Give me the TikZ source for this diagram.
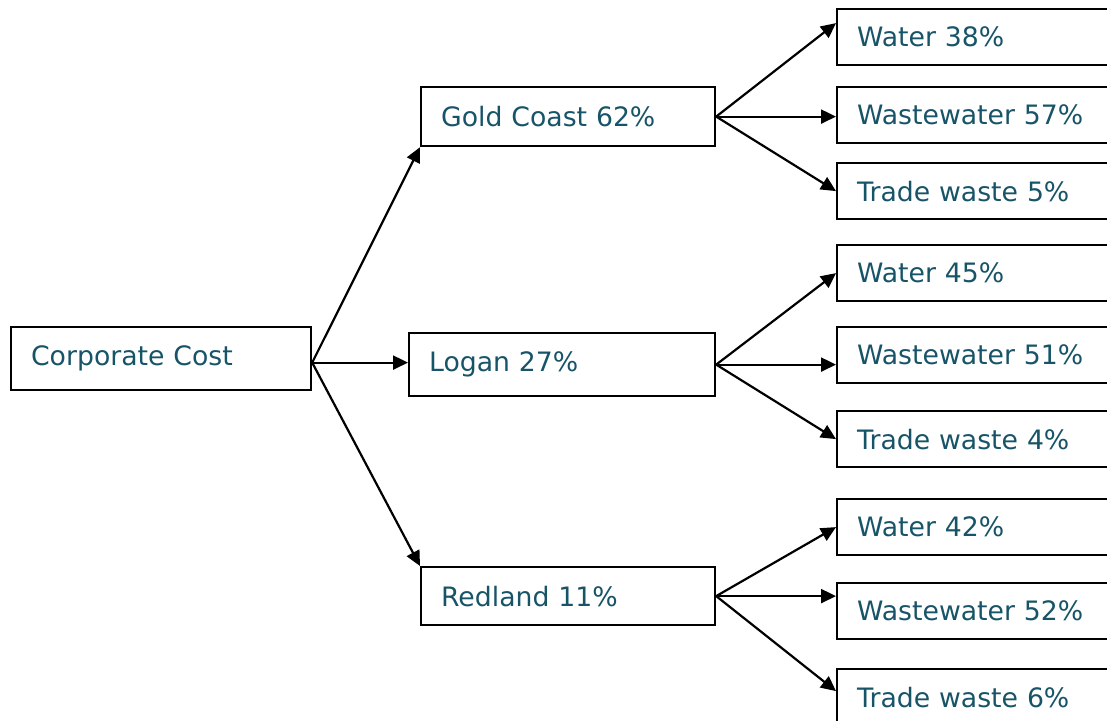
\documentclass[tikz,border=0pt]{standalone}
\usepackage{fontspec}
\setmainfont{DejaVu Sans}
\usepackage{xcolor}
\usetikzlibrary{arrows.meta,positioning,calc}
\definecolor{costtext}{RGB}{24,84,104}
\begin{document}
\begin{tikzpicture}[x=1pt,y=-1pt,
  arr/.style={-{Triangle[length=15pt,width=14pt]}, line width=2.2pt},
  box/.style={draw, line width=2.2pt, anchor=north west, align=left,
              inner xsep=20pt, text=costtext,
              font=\fontsize{26.7}{30}\selectfont, minimum height=59pt},
  catbox/.style={box, text width=232pt, minimum height=56pt}]
\useasboundingbox (0,0) rectangle (1107,720);
\node[box, text width=260pt, minimum height=63pt] (corp) at (10,326) {Corporate Cost};
\node[box, text width=254pt] (gc) at (420,86) {Gold Coast 62\%};
\node[box, text width=266pt, minimum height=63pt] (logan) at (408,332) {Logan 27\%};
\node[box, text width=254pt, minimum height=58pt] (red) at (420,566) {Redland 11\%};
% Gold Coast
\node[catbox] (gcw) at (836,8) {Water 38\%};
\node[catbox] (gcww) at (836,86) {Wastewater 57\%};
\node[catbox] (gctw) at (836,162) {Trade waste 5\%};
% Logan
\node[catbox] (lgw) at (836,244) {Water 45\%};
\node[catbox] (lgww) at (836,326) {Wastewater 51\%};
\node[catbox] (lgtw) at (836,410) {Trade waste 4\%};
% Redland
\node[catbox] (rdw) at (836,498) {Water 42\%};
\node[catbox] (rdww) at (836,582) {Wastewater 52\%};
\node[catbox] (rdtw) at (836,668) {Trade waste 6\%};
\coordinate (split) at ([yshift=-4pt]corp.east);
\draw[arr] (split) -- (gc.south west);
\draw[arr] (split) -- (logan.west |- split);
\draw[arr] (split) -- (red.north west);
\draw[arr] (gc.east) -- ([yshift=14pt]gcw.west);
\draw[arr] (gc.east) -- (gcww.west |- gc.east);
\draw[arr] (gc.east) -- (gctw.west);
\draw[arr] (logan.east) -- (lgw.west);
\draw[arr] (logan.east) -- (lgww.west |- logan.east);
\draw[arr] (logan.east) -- (lgtw.west);
\draw[arr] (red.east) -- (rdw.west);
\draw[arr] (red.east) -- (rdww.west |- red.east);
\draw[arr] (red.east) -- ([yshift=6pt]rdtw.west);
\end{tikzpicture}
\end{document}
